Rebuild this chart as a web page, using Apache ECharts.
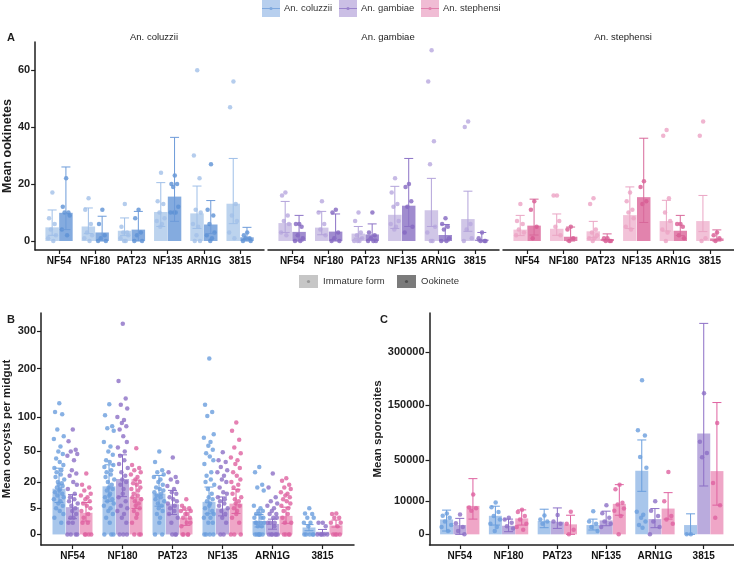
<!DOCTYPE html>
<html>
<head>
<meta charset="utf-8">
<script src="https://cdn.jsdelivr.net/npm/echarts@6/dist/echarts.min.js"></script>
<style>
  html, body { margin: 0; padding: 0; background: #fff; }
  #chart { width: 734px; height: 561px; }
</style>
</head>
<body>
<div id="chart"></div>
<script>
const strains = ["NF54", "NF180", "PAT23", "NF135", "ARN1G", "3815"];
const species = ["An. coluzzii", "An. gambiae", "An. stephensi"];
const forms = ["Immature form", "Ookinete"];

// ---- Panel A : mean ookinetes (linear axis) ----
const aTicks = [0, 20, 40, 60];

const aColImmMean = [4.8, 5.1, 3.6, 10.2, 9.7, 13.1];
const aColImmLo = [2.0, 2.6, 1.9, 5.1, 4.4, 6.1];
const aColImmHi = [10.9, 11.6, 8.1, 20.5, 19.3, 29.0];
const aColImmPts = [
  [17, 8, 6, 4, 2, 1, 0],
  [15, 11, 6, 3, 2, 1, 0],
  [13, 5, 3, 3, 2, 1, 0, 0],
  [24, 14, 13, 10, 8, 7, 6, 5],
  [60, 30, 22, 11, 10, 6, 5, 2, 0, 0],
  [56, 47, 13, 9, 7, 3, 1],
];
const aColOokMean = [9.9, 3.0, 4.0, 15.6, 5.8, 1.3];
const aColOokLo = [4.0, 0, 0, 6.9, 2.6, 0];
const aColOokHi = [26.0, 8.7, 10.4, 36.4, 14.2, 4.8];
const aColOokPts = [
  [22, 12, 10, 10, 9, 4, 2],
  [11, 6, 2, 1, 0, 0],
  [11, 8, 3, 2, 0, 0],
  [23, 20, 20, 19, 12, 10, 10, 10],
  [27, 11, 9, 6, 3, 2, 1, 0],
  [3, 2, 1, 1, 0, 0],
];

const aGamImmMean = [6.3, 4.7, 2.6, 9.2, 10.8, 7.7];
const aGamImmLo = [3.0, 2.2, 1.0, 4.4, 5.1, 3.4];
const aGamImmHi = [13.9, 10.4, 5.1, 19.2, 22.0, 17.5];
const aGamImmPts = [
  [17, 16, 9, 7, 6, 3, 2],
  [14, 10, 6, 4, 2],
  [10, 7, 3, 2, 1, 0, 0, 0],
  [22, 17, 13, 12, 7, 6, 5, 4],
  [67, 56, 35, 27, 5, 3, 0, 0],
  [42, 40, 6, 4, 1, 0],
];
const aGamOokMean = [3.2, 3.3, 2.3, 12.4, 2.1, 0.5];
const aGamOokLo = [0, 0, 0.7, 5.1, 0, 0];
const aGamOokHi = [9.0, 9.5, 6.0, 29.0, 5.8, 3.0];
const aGamOokPts = [
  [6, 6, 5, 2, 1, 0, 0],
  [11, 10, 3, 1, 0, 0],
  [10, 3, 2, 1, 0, 0, 0],
  [20, 19, 14, 12, 5, 3],
  [8, 6, 5, 4, 1, 0, 0],
  [3, 1, 0, 0, 0],
];

const aSteImmMean = [4.0, 4.3, 3.4, 9.1, 7.0, 7.0];
const aSteImmLo = [1.9, 2.0, 1.2, 4.4, 3.5, 3.3];
const aSteImmHi = [9.0, 9.5, 6.9, 19.0, 14.3, 16.0];
const aSteImmPts = [
  [13, 7, 6, 4, 3, 2],
  [16, 16, 7, 5, 2],
  [15, 13, 4, 3, 2, 1, 1, 0],
  [17, 14, 11, 10, 8, 5, 4],
  [39, 37, 15, 10, 7, 4, 3, 0],
  [42, 37, 1, 0],
];
const aSteOokMean = [5.4, 1.5, 0.7, 15.4, 3.6, 0.9];
const aSteOokLo = [2.1, 0, 0, 6.5, 1.9, 0];
const aSteOokHi = [14.7, 4.9, 2.5, 36.1, 9.0, 3.9];
const aSteOokPts = [
  [14, 11, 5, 1],
  [5, 4, 1, 0],
  [1, 1, 0, 0, 0],
  [21, 19, 14, 13],
  [6, 6, 5, 2, 1],
  [3, 2, 1, 0],
];

// ---- Panel B : mean oocysts per midgut (square-root axis) ----
const bTicks = [0, 5, 20, 50, 100, 200, 300];

const bColMean = [15.2, 16.8, 12.1, 7.7, 1.3, 0.35];
const bColLo = [7.4, 8.0, 5.8, 3.1, 0.4, 0.1];
const bColHi = [31.9, 35.2, 25.3, 16.3, 2.9, 0.7];
const bColPts = [
  [125, 109, 105, 80, 70, 66, 56, 50, 47, 42, 38, 35, 32, 30, 28, 26, 24, 22, 20, 19, 18, 17, 16, 15, 14, 13, 12, 11, 10, 9, 8, 7, 6, 5, 4, 3, 2, 1],
  [123, 103, 85, 82, 78, 62, 56, 50, 46, 40, 38, 35, 33, 30, 28, 26, 24, 22, 20, 18, 16, 15, 14, 12, 11, 10, 9, 8, 7, 6, 5, 4, 3, 2, 1, 0, 0, 0],
  [50, 38, 30, 28, 26, 24, 22, 20, 18, 16, 15, 14, 13, 12, 11, 10, 9, 8, 7, 6, 5, 4, 3, 2, 1, 0, 0],
  [225, 122, 109, 102, 73, 68, 62, 57, 52, 48, 44, 40, 36, 28, 25, 22, 20, 18, 15, 12, 10, 9, 8, 7, 6, 5, 4, 3, 3, 2, 2, 1, 1, 0, 0, 0, 0],
  [33, 28, 18, 16, 14, 6, 5, 4, 4, 3, 3, 2, 2, 2, 1, 1, 1, 1, 0.5, 0.5, 0, 0, 0, 0, 0, 0],
  [5, 3.2, 3, 2, 2, 1, 1, 0.5, 0, 0, 0, 0, 0],
];
const bGamMean = [5.4, 22.3, 6.6, 4.9, 0.8, 0.05];
const bGamLo = [1.8, 10.4, 2.9, 2.5, 0.2, 0];
const bGamHi = [11.5, 46, 14.1, 10.2, 1.7, 0.18];
const bGamPts = [
  [80, 63, 52, 50, 47, 45, 40, 30, 27, 25, 20, 18, 15, 12, 10, 9, 8, 7, 6, 5, 4, 3, 2, 2, 1, 1, 0, 0, 0, 0],
  [322, 171, 134, 122, 115, 100, 95, 90, 85, 80, 70, 62, 55, 50, 45, 40, 36, 32, 28, 25, 22, 20, 18, 15, 12, 10, 8, 6, 5, 4, 3, 2, 1, 0, 0, 0],
  [43, 28, 24, 22, 20, 17, 15, 13, 12, 10, 9, 8, 7, 6, 5, 4, 3, 2, 1, 0, 0, 0],
  [49, 40, 38, 33, 30, 28, 25, 22, 20, 16, 13, 12, 10, 9, 8, 7, 6, 5, 4, 3, 2, 1, 0, 0],
  [27, 16, 10, 8, 7, 6, 5, 4, 3, 3, 2, 2, 1, 1, 1, 0.5, 0, 0, 0, 0, 0, 0],
  [1, 1, 0.5, 0, 0, 0, 0, 0],
];
const bSteMean = [3.4, 10.2, 2.0, 6.9, 2.5, 0.6];
const bSteLo = [1.3, 4.9, 0.6, 3.2, 0.9, 0.4];
const bSteHi = [7.4, 21.5, 4.3, 14.8, 5.4, 1.5];
const bStePts = [
  [27, 18, 16, 14, 12, 11, 10, 9, 8, 7, 6, 5, 4, 3, 2, 1, 1, 0, 0, 0, 0],
  [54, 35, 32, 30, 28, 26, 24, 22, 20, 19, 18, 16, 15, 14, 12, 11, 10, 9, 8, 7, 6, 5, 4, 3, 2, 1, 0, 0, 0],
  [9, 6, 5, 5, 4, 4, 3, 3, 2, 2, 1, 1, 0.5, 0, 0, 0, 0],
  [91, 78, 65, 55, 48, 43, 40, 36, 32, 28, 25, 22, 20, 18, 16, 14, 12, 10, 9, 8, 7, 6, 5, 4, 3, 2, 1, 0, 0, 0],
  [23, 21, 18, 16, 15, 13, 12, 11, 10, 9, 8, 7, 6, 5, 4, 3, 2, 1, 1, 0, 0, 0, 0],
  [3.2, 3, 2, 2, 1, 1, 0.5, 0, 0, 0, 0],
];

// ---- Panel C : mean sporozoites (square-root axis) ----
const cTicks = [0, 10000, 50000, 150000, 300000];

const cColMean = [2000, 3100, 1600, 780, 36500, 780];
const cColLo = [100, 780, 400, 170, 16700, 0];
const cColHi = [5300, 7150, 5700, 2100, 80400, 3800];
const cColPts = [
  [3900, 3100, 2500, 1500, 800, 500, 100],
  [9100, 6650, 4500, 3000, 2000, 1000, 500, 100],
  [3200, 2000, 1500, 1000],
  [4850, 1500, 1000, 500, 100],
  [214000, 98000, 88000, 54000, 40000, 4600, 3500, 2500, 1500, 800, 400],
  [0, 0],
];
const cGamMean = [780, 670, 1430, 1750, 2100, 92000];
const cGamLo = [0, 64, 320, 670, 400, 21100];
const cGamHi = [2300, 2100, 6300, 4850, 6000, 401700];
const cGamPts = [
  [3600, 1100, 500, 100, 0],
  [2500, 2000, 1200, 600, 300],
  [3360, 1500, 1000],
  [7700, 4000, 2500, 1500, 1000, 500],
  [9900, 5000, 3000, 1500, 500, 0],
  [180000, 77600, 59900, 53700],
];
const cSteMean = [7300, 2300, 900, 8400, 6000, 36100];
const cSteLo = [2100, 780, 0, 3300, 2100, 7700];
const cSteHi = [28000, 5400, 3300, 22300, 15700, 156800];
const cStePts = [
  [14300, 6500, 6100, 5000],
  [5500, 4500, 3000, 2000, 1000, 500, 200],
  [4600, 1000, 200, 0],
  [22300, 18300, 9000, 8000, 6000, 5000, 3000, 0],
  [35000, 9900, 3000, 2000, 1000],
  [111800, 23800, 7700, 2500],
];

// layout / style constants (not data)
const JITTER = [0.05, -0.72, 0.58, -0.31, 0.86, -0.93, 0.27, -0.12, 0.69, -0.52, 0.14, 0.79,
  -0.84, 0.41, -0.44, 0.33, -0.63, 0.95, -0.21, 0.5, -0.05, 0.66, -0.38, 0.2];
const FONT = "Liberation Sans";
const INK = "#1e1e1e";

const COLORS = [
  { immBar: "#bcd3ee", ookBar: "#84abdf", immPt: "#a2c1e9", ookPt: "#5d91d5", immErr: "#9fbfe8", ookErr: "#6d9bd9", bar: "#a8c6eb", pt: "#6a9edd", legBox: "#b7cfee", legLine: "#7ea8de" },
  { immBar: "#d0c6e7", ookBar: "#a08ccf", immPt: "#b8a8de", ookPt: "#8366c1", immErr: "#b3a3da", ookErr: "#8c72c6", bar: "#baabdd", pt: "#8c6fc6", legBox: "#cbbfe5", legLine: "#9a83cc" },
  { immBar: "#f2c2d8", ookBar: "#e283ad", immPt: "#eca3c4", ookPt: "#d85a92", immErr: "#eaa5c4", ookErr: "#d8689a", bar: "#efa6c7", pt: "#df62a0", legBox: "#f0bcd4", legLine: "#e07fab" },
];

const lin = (v) => v;
const sq = (v) => Math.sqrt(v);

function barSeries(name, axis, offset, means, tf, width, color) {
  return {
    name, type: "bar", xAxisIndex: axis, yAxisIndex: axis,
    barWidth: width, barGap: "-100%", z: 2, silent: true,
    itemStyle: { color },
    data: means.map((m, i) => [i + offset, tf(m)]),
  };
}

function pointSeries(axis, offset, pts, tf, spread, color, size) {
  const data = [];
  pts.forEach((vals, i) => {
    vals.forEach((v, j) => {
      data.push([i + offset + JITTER[j % JITTER.length] * spread, tf(v)]);
    });
  });
  return {
    type: "scatter", xAxisIndex: axis, yAxisIndex: axis, z: 3, silent: true,
    symbolSize: size,
    itemStyle: { color, opacity: 0.8 },
    data,
  };
}

function errSeries(axis, offset, lo, hi, tf, cap, color) {
  return {
    type: "custom", xAxisIndex: axis, yAxisIndex: axis, z: 4, silent: true,
    encode: { x: 0, y: [1, 2] },
    data: lo.map((l, i) => [i + offset, tf(l), tf(hi[i])]),
    renderItem: (params, api) => {
      const x = api.value(0);
      const a = api.coord([x, api.value(1)]);
      const b = api.coord([x, api.value(2)]);
      const h = cap / 2;
      const style = { stroke: color, lineWidth: 1 };
      return {
        type: "group",
        children: [
          { type: "line", shape: { x1: a[0], y1: a[1], x2: b[0], y2: b[1] }, style },
          { type: "line", shape: { x1: b[0] - h, y1: b[1], x2: b[0] + h, y2: b[1] }, style },
          { type: "line", shape: { x1: a[0] - h, y1: a[1], x2: a[0] + h, y2: a[1] }, style },
        ],
      };
    },
  };
}

function xAxisFor(grid, min, max) {
  return {
    type: "value", gridIndex: grid, min, max,
    axisLine: { show: true, onZero: false, lineStyle: { color: INK, width: 1.5 } },
    axisTick: { show: true, length: 4, customValues: [0, 1, 2, 3, 4, 5], lineStyle: { color: INK, width: 1.2 } },
    axisLabel: {
      customValues: [0, 1, 2, 3, 4, 5], margin: 6,
      formatter: (v) => strains[Math.round(v)],
      fontFamily: FONT, fontWeight: "bold", fontSize: 10, color: "#111",
    },
    splitLine: { show: false },
  };
}

function yAxisFor(grid, min, max, ticks, tf, name, gap, nameSize, show) {
  const vals = ticks.map(tf);
  return {
    type: "value", gridIndex: grid, min, max, show,
    name, nameLocation: "middle", nameGap: gap,
    nameTextStyle: { fontFamily: FONT, fontWeight: "bold", fontSize: nameSize, color: INK },
    axisLine: { show: true, onZero: false, lineStyle: { color: INK, width: 1.5 } },
    axisTick: { show: true, length: 4, customValues: vals, lineStyle: { color: INK, width: 1.2 } },
    axisLabel: {
      customValues: vals, margin: 5,
      formatter: (v) => String(Math.round(tf === sq ? v * v : v)),
      fontFamily: FONT, fontWeight: "bold", fontSize: 11, color: "#222",
    },
    splitLine: { show: false },
  };
}

const grids = [
  { left: 34, top: 42, width: 230, height: 208 },
  { left: 268, top: 42, width: 231, height: 208 },
  { left: 503, top: 42, width: 231, height: 208 },
  { left: 41, top: 313, width: 313, height: 233.5 },
  { left: 429.5, top: 313, width: 305, height: 233.5 },
];

const xAxes = [
  xAxisFor(0, -0.66, 5.66),
  xAxisFor(1, -0.66, 5.66),
  xAxisFor(2, -0.66, 5.66),
  xAxisFor(3, -0.63, 5.63),
  xAxisFor(4, -0.62, 5.62),
];

const yAxes = [
  yAxisFor(0, -3.16, 69.9, aTicks, lin, "Mean ookinetes", 21, 12.5, true),
  yAxisFor(1, -3.16, 69.9, aTicks, lin, "", 0, 12, false),
  yAxisFor(2, -3.16, 69.9, aTicks, lin, "", 0, 12, false),
  yAxisFor(3, -0.9, 18.87, bTicks, sq, "Mean oocysts per midgut", 28, 11.5, true),
  yAxisFor(4, -32, 665, cTicks, sq, "Mean sporozoites", 44, 11.5, true),
];

const series = [];

// panel A facets
const aFacets = [
  [aColImmMean, aColImmLo, aColImmHi, aColImmPts, aColOokMean, aColOokLo, aColOokHi, aColOokPts],
  [aGamImmMean, aGamImmLo, aGamImmHi, aGamImmPts, aGamOokMean, aGamOokLo, aGamOokHi, aGamOokPts],
  [aSteImmMean, aSteImmLo, aSteImmHi, aSteImmPts, aSteOokMean, aSteOokLo, aSteOokHi, aSteOokPts],
];
aFacets.forEach((f, k) => {
  const c = COLORS[k];
  const off = 0.19;
  series.push(barSeries(species[k] + " " + forms[0], k, -off, f[0], lin, 13.5, c.immBar));
  series.push(barSeries(species[k] + " " + forms[1], k, off, f[4], lin, 13.5, c.ookBar));
  series.push(pointSeries(k, -off, f[3], lin, 0.12, c.immPt, 4.5));
  series.push(pointSeries(k, off, f[7], lin, 0.12, c.ookPt, 4.5));
  series.push(errSeries(k, -off, f[1], f[2], lin, 9, c.immErr));
  series.push(errSeries(k, off, f[5], f[6], lin, 9, c.ookErr));
});

// panels B and C
const bGroups = [
  [bColMean, bColLo, bColHi, bColPts],
  [bGamMean, bGamLo, bGamHi, bGamPts],
  [bSteMean, bSteLo, bSteHi, bStePts],
];
const cGroups = [
  [cColMean, cColLo, cColHi, cColPts],
  [cGamMean, cGamLo, cGamHi, cGamPts],
  [cSteMean, cSteLo, cSteHi, cStePts],
];
const dodge = [-0.27, 0, 0.27];
[[3, bGroups], [4, cGroups]].forEach(([axis, groups]) => {
  groups.forEach((g, k) => {
    const c = COLORS[k];
    series.push(barSeries(species[k], axis, dodge[k], g[0], sq, 13, c.bar));
    series.push(pointSeries(axis, dodge[k], g[3], sq, 0.11, c.pt, 4.5));
    series.push(errSeries(axis, dodge[k], g[1], g[2], sq, 9, c.pt));
  });
});

// titles: facet labels and panel letters
const titleStyle = { fontFamily: FONT, fontSize: 9.5, fontWeight: "normal", color: "#222" };
const letterStyle = { fontFamily: FONT, fontSize: 11, fontWeight: "bold", color: INK };
const titles = [
  { text: species[0], left: 149, top: 27, textAlign: "center", textStyle: titleStyle },
  { text: species[1], left: 383, top: 27, textAlign: "center", textStyle: titleStyle },
  { text: species[2], left: 618, top: 27, textAlign: "center", textStyle: titleStyle },
  { text: "A", left: 2, top: 27, textStyle: letterStyle },
  { text: "B", left: 2, top: 309, textStyle: letterStyle },
  { text: "C", left: 375, top: 309, textStyle: letterStyle },
];

// legends drawn as graphics
function legendItem(x, y, w, h, box, line, dot, label) {
  return [
    { type: "rect", shape: { x, y, width: w, height: h }, style: { fill: box } },
    { type: "line", shape: { x1: x, y1: y + h / 2, x2: x + w, y2: y + h / 2 }, style: { stroke: line, lineWidth: 1 } },
    { type: "circle", shape: { cx: x + w / 2, cy: y + h / 2, r: 1.6 }, style: { fill: dot } },
    { type: "text", x: x + w + 4, y: y + h / 2, style: { text: label, fontFamily: FONT, fontSize: 9.5, fill: "#333", verticalAlign: "middle" } },
  ];
}
function formItem(x, y, w, h, box, dot, label) {
  return [
    { type: "rect", shape: { x, y, width: w, height: h }, style: { fill: box } },
    { type: "circle", shape: { cx: x + w / 2, cy: y + h / 2, r: 1.6 }, style: { fill: dot } },
    { type: "text", x: x + w + 5, y: y + h / 2, style: { text: label, fontFamily: FONT, fontSize: 9.5, fill: "#333", verticalAlign: "middle" } },
  ];
}
const graphics = [
  ...legendItem(262, 0, 18, 17, COLORS[0].legBox, COLORS[0].legLine, COLORS[0].legLine, species[0]),
  ...legendItem(339, 0, 18, 17, COLORS[1].legBox, COLORS[1].legLine, COLORS[1].legLine, species[1]),
  ...legendItem(421, 0, 18, 17, COLORS[2].legBox, COLORS[2].legLine, COLORS[2].legLine, species[2]),
  ...formItem(299, 275, 19, 13, "#c6c6c6", "#999", forms[0]),
  ...formItem(397, 275, 19, 13, "#7b7b7b", "#505050", forms[1]),
];

const option = {
  animation: false,
  backgroundColor: "#fff",
  title: titles,
  grid: grids,
  xAxis: xAxes,
  yAxis: yAxes,
  series,
  graphic: graphics,
};

const myChart = echarts.init(document.getElementById("chart"));
myChart.setOption(option);
</script>
</body>
</html>
